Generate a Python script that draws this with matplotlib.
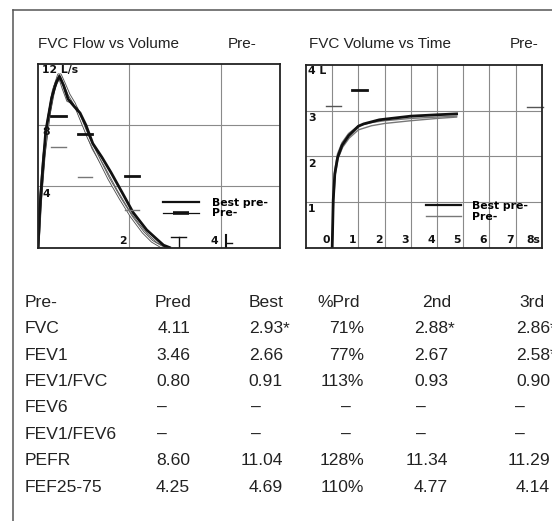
import matplotlib
matplotlib.use('Agg')
import matplotlib.pyplot as plt
from matplotlib.lines import Line2D

# flow-volume loops (volume L, flow L/s)
fv_best_vol = [0, 0.04, 0.09, 0.17, 0.30, 0.40, 0.47, 0.56, 0.66, 0.80, 0.92, 1.05, 1.20, 1.40, 1.60, 1.86, 2.08, 2.38, 2.60, 2.75, 2.88]
fv_best_flow = [0, 2.5, 4.6, 7.6, 9.8, 10.8, 11.2, 10.6, 9.7, 9.2, 8.8, 8.0, 6.8, 5.9, 4.9, 3.5, 2.3, 1.15, 0.55, 0.15, 0]
fv_2nd_vol = [0, 0.05, 0.12, 0.22, 0.33, 0.45, 0.55, 0.65, 0.75, 0.85, 1.00, 1.20, 1.45, 1.72, 2.00, 2.20, 2.40, 2.60, 2.78]
fv_2nd_flow = [0, 3.0, 5.8, 8.3, 10.2, 11.3, 10.4, 9.6, 9.5, 9.1, 8.0, 6.5, 5.2, 3.7, 2.3, 1.5, 0.8, 0.25, 0]
fv_3rd_vol = [0, 0.06, 0.14, 0.25, 0.36, 0.49, 0.58, 0.68, 0.80, 0.95, 1.10, 1.30, 1.55, 1.80, 2.05, 2.30, 2.50, 2.70, 2.75]
fv_3rd_flow = [0, 3.2, 6.2, 8.8, 10.5, 11.3, 10.7, 10.0, 9.4, 8.3, 7.2, 6.0, 4.5, 3.2, 2.0, 1.0, 0.4, 0.05, 0]

# predicted markers on flow-volume (PEF, FEF25, FEF50, FEF75)
pred_vol = [0.45, 1.03, 2.06, 3.08]
pred_flow = [8.60, 7.4, 4.67, 0.66]
lln_flow = [6.58, 4.6, 2.48]
pred_fvc = 4.11

# volume-time curves (s, L)
vt_best_t = [0, 0.04, 0.10, 0.21, 0.375, 0.625, 1.0, 1.2, 1.8, 3.0, 4.0, 4.75]
vt_best_v = [0, 1.04, 1.62, 1.98, 2.24, 2.45, 2.66, 2.71, 2.80, 2.88, 2.91, 2.93]
vt_2nd_t = [0, 0.04, 0.10, 0.20, 0.375, 0.625, 1.0, 1.5, 2.0, 3.0, 4.0, 4.75]
vt_2nd_v = [0, 1.1, 1.7, 2.05, 2.30, 2.50, 2.67, 2.74, 2.78, 2.83, 2.86, 2.88]
vt_3rd_t = [0, 0.05, 0.12, 0.22, 0.40, 0.65, 1.0, 1.5, 2.0, 3.0, 4.0, 4.75]
vt_3rd_v = [0, 1.0, 1.6, 1.95, 2.20, 2.40, 2.58, 2.67, 2.72, 2.78, 2.83, 2.86]
vt_pred_t = [0.04, 1.04, 7.7]
vt_pred_v = [3.1, 3.46, 3.09]

# results table
params = ['FVC', 'FEV1', 'FEV1/FVC', 'FEV6', 'FEV1/FEV6', 'PEFR', 'FEF25-75']
headers = ['Pred', 'Best', '%Prd', '2nd', '3rd']
pred = ['4.11', '3.46', '0.80', '–', '–', '8.60', '4.25']
best = ['2.93*', '2.66', '0.91', '–', '–', '11.04', '4.69']
pct = ['71%', '77%', '113%', '–', '–', '128%', '110%']
second = ['2.88*', '2.67', '0.93', '–', '–', '11.34', '4.77']
third = ['2.86*', '2.58*', '0.90', '–', '–', '11.29', '4.14']

W, H = 552, 521
SANS = 'Liberation Sans'
BOLD = dict(fontsize=7.8, fontweight='bold', family='DejaVu Sans', color='#111')
INK = '#222222'

def fx(x):
    return x / W

def fy(y):
    return 1 - y / H

fig = plt.figure(figsize=(W / 100, H / 100), dpi=100, facecolor='white')

# outer frame
fig.add_artist(Line2D([fx(13), 1], [fy(10), fy(10)], color='#555', lw=1.1))
fig.add_artist(Line2D([fx(13), fx(13)], [fy(10), 0], color='#555', lw=1.1))

fig.text(fx(38), fy(48.3), 'FVC Flow vs Volume', fontsize=11, family=SANS, color=INK)
fig.text(fx(228), fy(48.3), 'Pre-', fontsize=11, family=SANS, color=INK)
fig.text(fx(309), fy(48.3), 'FVC Volume vs Time', fontsize=11, family=SANS, color=INK)
fig.text(fx(510), fy(48.3), 'Pre-', fontsize=11, family=SANS, color=INK)

# ---- flow vs volume
ax1 = fig.add_axes([fx(38), fy(247.5), (280 - 38) / W, (247.5 - 64) / H])
ax1.set_xlim(0, 5.3)
ax1.set_ylim(0, 12)
ax1.set_xticks([2, 4])
ax1.set_yticks([4, 8])
ax1.grid(True, color='#8a8a8a', lw=0.8)
ax1.tick_params(length=0, labelbottom=False, labelleft=False)
for s in ax1.spines.values():
    s.set_linewidth(1.3)
    s.set_color('#222')

for v, f in [(fv_2nd_vol, fv_2nd_flow), (fv_3rd_vol, fv_3rd_flow)]:
    ax1.plot(v, f, color='#555', lw=2.0, solid_capstyle='round')
    ax1.plot(v, f, color='white', lw=0.7)
ax1.plot(fv_best_vol, fv_best_flow, color='#111', lw=2.0)

hw = 0.16
for v, p in zip(pred_vol[:3], pred_flow[:3]):
    ax1.plot([v - hw, v + hw], [p, p], color='#111', lw=2.0)
for v, l in zip(pred_vol[:3], lln_flow):
    ax1.plot([v - hw, v + hw], [l, l], color='#777', lw=1.0)
# FEF75 "T" marker and FVC marker
ax1.plot([pred_vol[3] - hw, pred_vol[3] + hw], [pred_flow[3], pred_flow[3]], color='#111', lw=1.0)
ax1.plot([pred_vol[3], pred_vol[3]], [0, pred_flow[3]], color='#111', lw=1.0)
ax1.plot([pred_fvc, pred_fvc], [0, 0.8], color='#111', lw=1.5)
ax1.plot([pred_fvc, pred_fvc + 0.14], [0.3, 0.3], color='#111', lw=1.0)

ax1.text(0.08, 11.95, '12 L/s', ha='left', va='top', **BOLD)
for y in [8, 4]:
    ax1.text(0.1, y - 0.15, str(y), ha='left', va='top', **BOLD)
for x in [2, 4]:
    ax1.text(x - 0.05, 0.1, str(x), ha='right', va='bottom', **BOLD)

h1 = [Line2D([], [], color='#111', lw=1.6),
      Line2D([], [], color='#111', lw=0.9, marker='_', markersize=12, mew=2.6)]
ax1.legend(h1, ['Best pre-', 'Pre-'], loc='upper left', bbox_to_anchor=(0.516, 0.27),
           frameon=False, borderpad=0, borderaxespad=0, handlelength=3.3,
           handletextpad=1.2, labelspacing=0.05, numpoints=1,
           prop={'family': 'DejaVu Sans', 'weight': 'bold', 'size': 7.8})

# ---- volume vs time
ax2 = fig.add_axes([fx(306), fy(247.7), (541.7 - 306) / W, (247.7 - 65) / H])
ax2.set_xlim(-1, 8)
ax2.set_ylim(0, 4)
ax2.set_xticks(range(0, 8))
ax2.set_yticks([1, 2, 3])
ax2.grid(True, color='#8a8a8a', lw=0.8)
ax2.tick_params(length=0, labelbottom=False, labelleft=False)
for s in ax2.spines.values():
    s.set_linewidth(1.3)
    s.set_color('#222')

ax2.plot(vt_3rd_t, vt_3rd_v, color='#777', lw=1.0)
ax2.plot(vt_2nd_t, vt_2nd_v, color='#777', lw=1.0)
ax2.plot(vt_best_t, vt_best_v, color='#111', lw=2.0)
ax2.plot([vt_pred_t[0] - 0.28, vt_pred_t[0] + 0.28], [vt_pred_v[0]] * 2, color='#555', lw=1.0, clip_on=False)
ax2.plot([vt_pred_t[1] - 0.29, vt_pred_t[1] + 0.29], [vt_pred_v[1]] * 2, color='#111', lw=2.0)
ax2.plot([vt_pred_t[2] - 0.28, vt_pred_t[2] + 0.35], [vt_pred_v[2]] * 2, color='#555', lw=1.0, clip_on=False)

ax2.text(-0.92, 3.97, '4 L', ha='left', va='top', **BOLD)
for y in [3, 2, 1]:
    ax2.text(-0.92, y - 0.05, str(y), ha='left', va='top', **BOLD)
for x in range(0, 8):
    ax2.text(x - 0.08, 0.05, str(x), ha='right', va='bottom', **BOLD)
ax2.text(7.95, 0.05, '8s', ha='right', va='bottom', **BOLD)

h2 = [Line2D([], [], color='#111', lw=1.6), Line2D([], [], color='#777', lw=1.0)]
ax2.legend(h2, ['Best pre-', 'Pre-'], loc='upper left', bbox_to_anchor=(0.509, 0.255),
           frameon=False, borderpad=0, borderaxespad=0, handlelength=3.2,
           handletextpad=1.05, labelspacing=0.05,
           prop={'family': 'DejaVu Sans', 'weight': 'bold', 'size': 7.8})

# ---- table
TS = 12.6
base0, step = 306.7, 26.4
fig.text(fx(25), fy(base0), 'Pre-', fontsize=TS, family=SANS, color=INK)
head_right = [191, 284, 360, 451, 545]
for h, xr in zip(headers, head_right):
    fig.text(fx(xr), fy(base0), h, fontsize=TS, family=SANS, color=INK, ha='right')

col_right = [190, 283, 364, 448, 550]
dash_left = [157, 251, 341, 416, 515]
columns = [pred, best, pct, second, third]
for i, name in enumerate(params):
    yb = fy(base0 + step * (i + 1))
    fig.text(fx(25), yb, name, fontsize=TS, family=SANS, color=INK)
    for col, xr, xd in zip(columns, col_right, dash_left):
        val = col[i]
        if val == '–':
            fig.text(fx(xd), yb, val, fontsize=TS, family=SANS, color=INK, ha='left')
            continue
        star = val.endswith('*')
        fig.text(fx(xr), yb, val.rstrip('*'), fontsize=TS, family=SANS, color=INK, ha='right')
        if star:
            fig.text(fx(xr), yb, '*', fontsize=TS, family=SANS, color=INK, ha='left')

fig.savefig('out.png', dpi=100, facecolor='white')
